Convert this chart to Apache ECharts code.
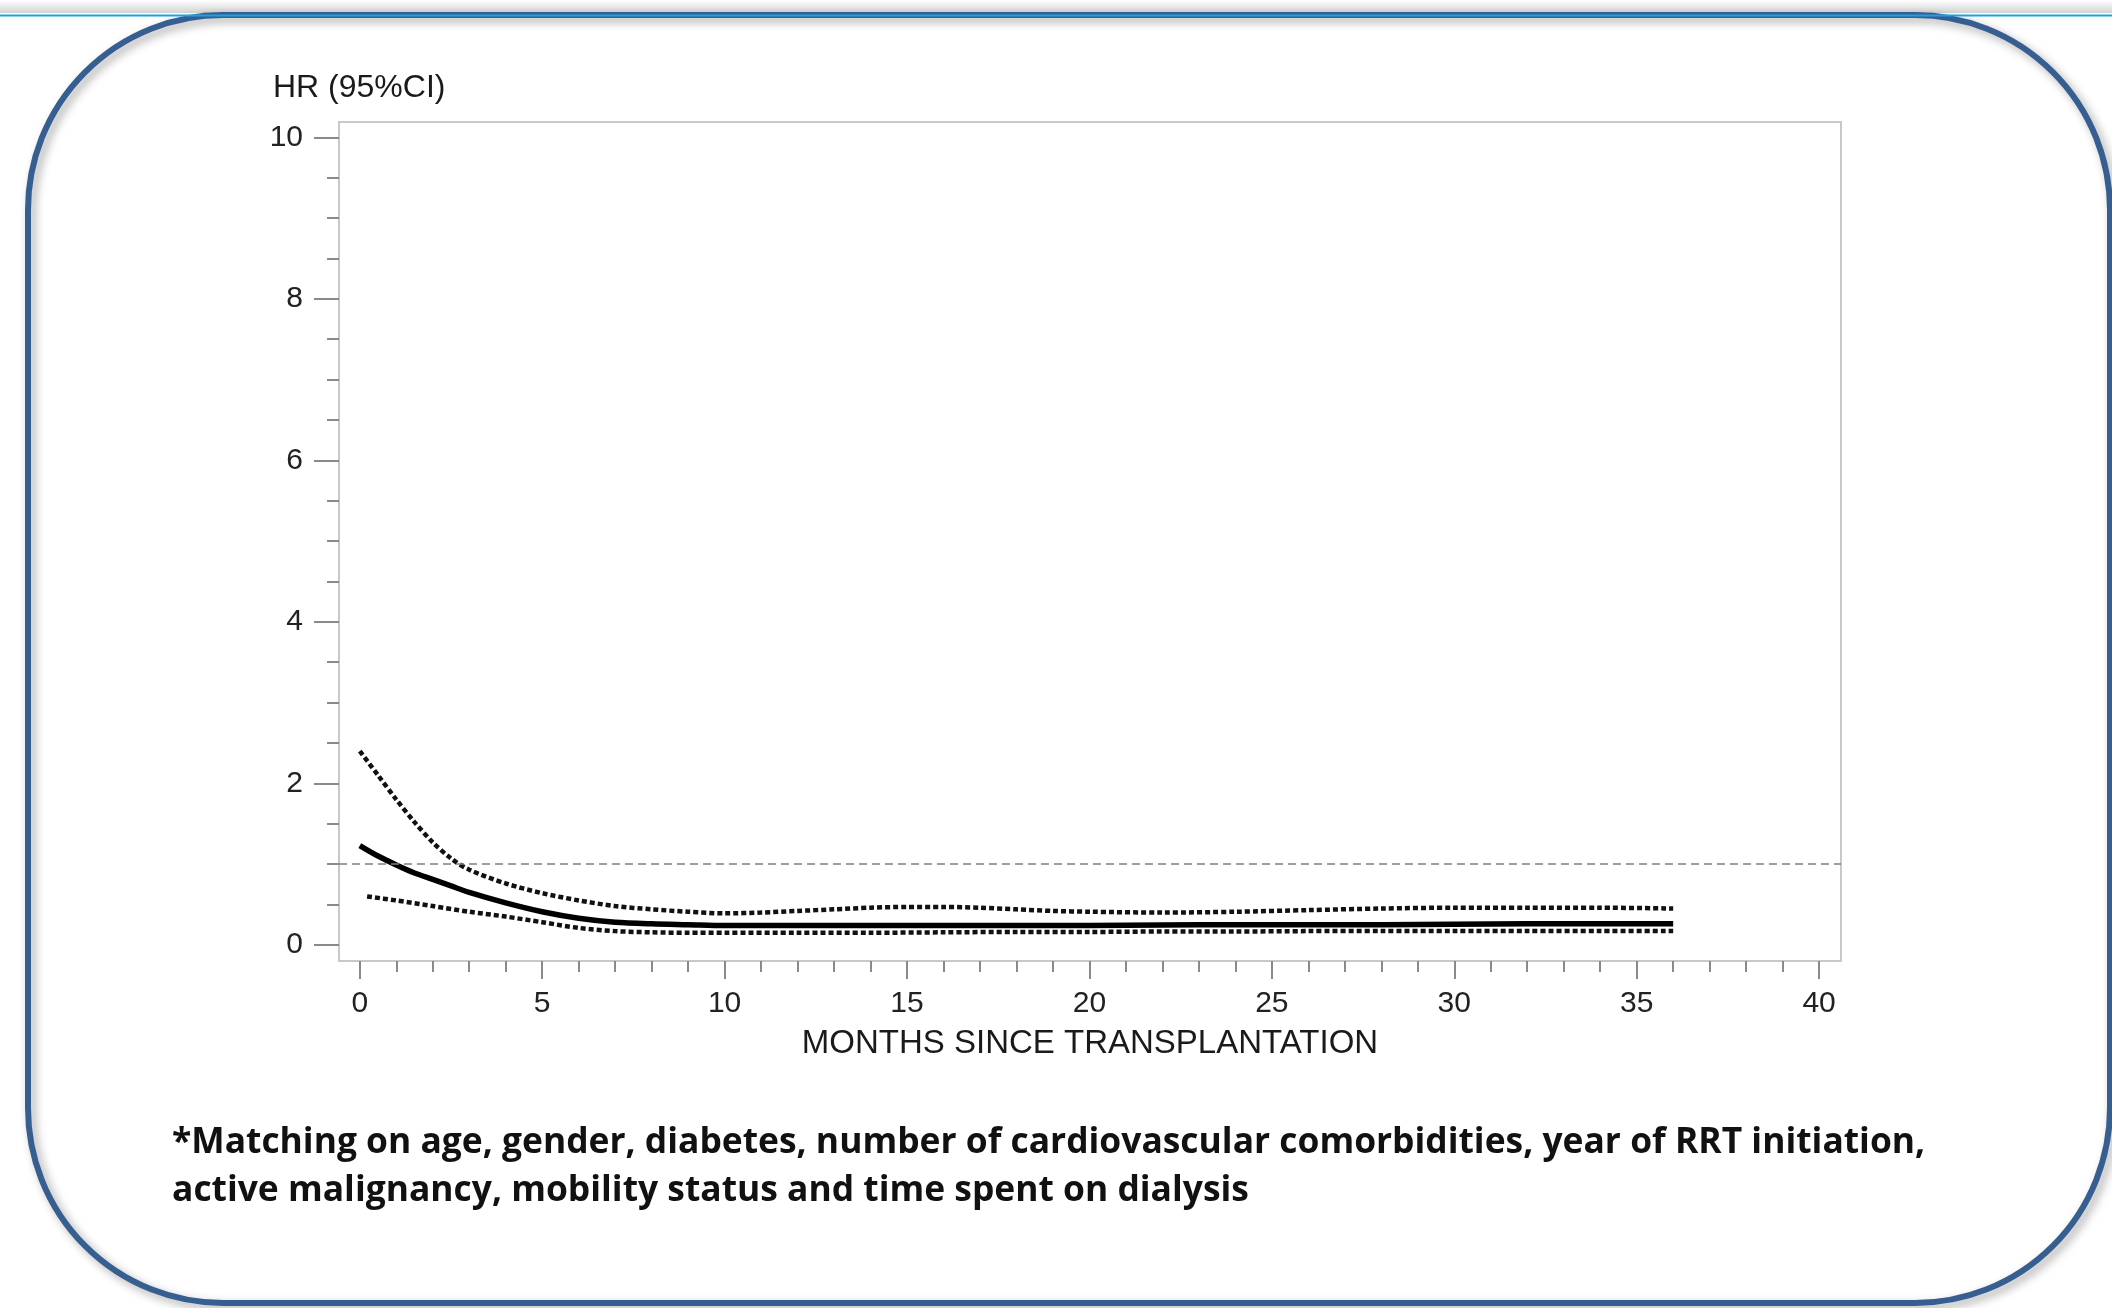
<!DOCTYPE html>
<html>
<head>
<meta charset="utf-8">
<script src="https://cdn.jsdelivr.net/npm/echarts@6/dist/echarts.min.js"></script>
<style>
html,body{margin:0;padding:0;background:#fff;}
#chart{width:2112px;height:1308px;}
</style>
</head>
<body>
<div id="chart"></div>
<script>
// ---- data ----
const months = [0,0.5,1,1.5,2,2.5,3,4,5,6,7,8,9,10,11,12,13,14,15,16,17,18,19,20,22,24,26,28,30,32,34,36];
const hr     = [1.23,1.10,0.99,0.89,0.81,0.73,0.65,0.52,0.41,0.33,0.28,0.26,0.25,0.24,0.24,0.24,0.24,0.24,0.24,0.24,0.24,0.24,0.24,0.24,0.245,0.25,0.25,0.25,0.255,0.26,0.26,0.26];
const upper  = [2.40,2.10,1.80,1.52,1.27,1.07,0.93,0.76,0.64,0.55,0.48,0.44,0.41,0.39,0.40,0.42,0.44,0.46,0.47,0.47,0.46,0.44,0.42,0.41,0.40,0.41,0.43,0.45,0.46,0.46,0.46,0.45];
const lowerMonths = [0.2,1,2,3,4,5,6,7,8,9,10,12,14,16,18,20,22,24,26,28,30,32,34,36];
const lower  = [0.60,0.55,0.48,0.41,0.35,0.28,0.21,0.17,0.155,0.15,0.15,0.15,0.15,0.155,0.16,0.16,0.165,0.165,0.17,0.17,0.17,0.17,0.17,0.17];
const xMajorTicks = [0,5,10,15,20,25,30,35,40];
const xMinorTicks = [1,2,3,4,6,7,8,9,11,12,13,14,16,17,18,19,21,22,23,24,26,27,28,29,31,32,33,34,36,37,38,39];
const yMajorTicks = [0,2,4,6,8,10];
const yMinorTicks = [0.5,1,1.5,2.5,3,3.5,4.5,5,5.5,6.5,7,7.5,8.5,9,9.5];
const referenceHR = 1;
const yAxisTitle = 'HR (95%CI)';
const xAxisTitle = 'MONTHS SINCE TRANSPLANTATION';
const footLine1 = '*Matching on age, gender, diabetes, number of cardiovascular comorbidities, year of RRT initiation,';
const footLine2 = 'active malignancy, mobility status and time spent on dialysis';

const pairs = (xs, ys) => xs.map((x, i) => [x, ys[i]]);

const chart = echarts.init(document.getElementById('chart'));
const axisFont = 'Liberation Sans, Arial, sans-serif';
const tickColor = '#8a8a8a';
const hiddenLine = {show: false, onZero: false};

chart.setOption({
  backgroundColor: '#ffffff',
  animation: false,
  title: {
    text: yAxisTitle,
    left: 268, top: 67,
    textStyle: {fontFamily: axisFont, fontSize: 32, fontWeight: 'normal', color: '#1a1a1a'}
  },
  grid: {
    left: 339, top: 122, width: 1502, height: 839,
    show: true, borderColor: '#c8c8c8', borderWidth: 2, backgroundColor: 'transparent'
  },
  xAxis: [{
    type: 'value', min: -0.57, max: 40.6, position: 'bottom',
    name: xAxisTitle, nameLocation: 'middle', nameGap: 66,
    nameTextStyle: {fontFamily: axisFont, fontSize: 33, color: '#1a1a1a'},
    axisLine: hiddenLine,
    splitLine: {show: false},
    axisTick: {show: true, inside: false, length: 18, customValues: xMajorTicks, lineStyle: {color: tickColor, width: 2}},
    axisLabel: {show: true, customValues: xMajorTicks, margin: 28, fontFamily: axisFont, fontSize: 30, color: '#222'}
  }, {
    type: 'value', min: -0.57, max: 40.6, position: 'bottom',
    axisLine: hiddenLine, splitLine: {show: false},
    axisTick: {show: true, inside: false, length: 11, customValues: xMinorTicks, lineStyle: {color: tickColor, width: 2}},
    axisLabel: {show: false}
  }],
  yAxis: [{
    type: 'value', min: -0.2, max: 10.19, position: 'left',
    axisLine: hiddenLine, splitLine: {show: false},
    axisTick: {show: true, inside: false, length: 25, customValues: yMajorTicks, lineStyle: {color: tickColor, width: 2}},
    axisLabel: {show: true, customValues: yMajorTicks, margin: 36, fontFamily: axisFont, fontSize: 30, color: '#222'}
  }, {
    type: 'value', min: -0.2, max: 10.19, position: 'left',
    axisLine: hiddenLine, splitLine: {show: false},
    axisTick: {show: true, inside: false, length: 12, customValues: yMinorTicks, lineStyle: {color: tickColor, width: 2}},
    axisLabel: {show: false}
  }],
  series: [{
    name: 'Upper 95% CI', type: 'line', data: pairs(months, upper),
    smooth: 0.3, showSymbol: false, symbol: 'none',
    lineStyle: {color: '#111', width: 4.5, type: [5, 3]}
  }, {
    name: 'Lower 95% CI', type: 'line', data: pairs(lowerMonths, lower),
    smooth: 0.3, showSymbol: false, symbol: 'none',
    lineStyle: {color: '#111', width: 4.5, type: [5, 3]}
  }, {
    name: 'HR', type: 'line', data: pairs(months, hr),
    smooth: 0.3, showSymbol: false, symbol: 'none',
    lineStyle: {color: '#000', width: 5.5, type: 'solid'},
    markLine: {
      silent: true, symbol: ['none', 'none'], label: {show: false},
      lineStyle: {color: '#808080', width: 1.5, type: [8, 5]},
      data: [{yAxis: referenceHR}]
    }
  }],
  graphic: [{
    type: 'rect', z: -10,
    shape: {x: 0, y: 0, width: 2112, height: 13},
    style: {fill: new echarts.graphic.LinearGradient(0, 0, 0, 1, [{offset: 0, color: '#ffffff'}, {offset: 1, color: '#d4d4d4'}])}
  }, {
    type: 'rect', z: -5,
    shape: {x: 28, y: 15, width: 2082, height: 1288, r: 195},
    style: {fill: 'transparent', stroke: '#375E90', lineWidth: 6,
            shadowBlur: 10, shadowColor: 'rgba(0,0,0,0.35)', shadowOffsetX: 4, shadowOffsetY: 4}
  }, {
    type: 'line', z: -4,
    shape: {x1: 0, y1: 15.5, x2: 2112, y2: 15.5},
    style: {stroke: '#1AA3E0', lineWidth: 2}
  }, {
    type: 'text', left: 172, top: 1125,
    style: {text: footLine1, fontFamily: 'Open Sans, Lato, sans-serif', fontWeight: 'bold', fontSize: 35.4, fill: '#111'}
  }, {
    type: 'text', left: 172, top: 1173,
    style: {text: footLine2, fontFamily: 'Open Sans, Lato, sans-serif', fontWeight: 'bold', fontSize: 35.4, fill: '#111'}
  }]
});
</script>
</body>
</html>
